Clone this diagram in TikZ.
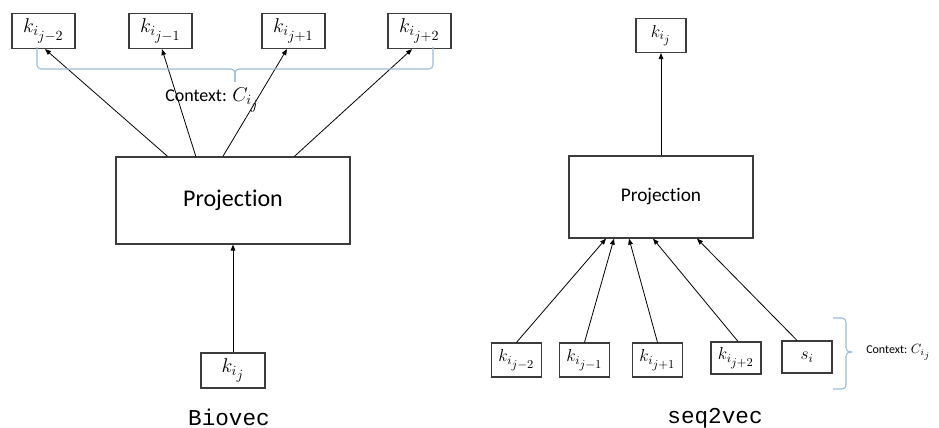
\RequirePackage{fix-cm}
\documentclass[tikz,border=0pt]{standalone}
\usepackage{fontspec}
\setmainfont[Ligatures={NoCommon}]{Carlito}
\newfontfamily\capfont{Liberation Mono}
\usepackage{tikz}
\usetikzlibrary{positioning,arrows.meta,calc}
\definecolor{boxgray}{RGB}{60,60,60}
\definecolor{braceblue}{RGB}{155,187,217}
\tikzset{
  kbox/.style={draw=boxgray,line width=0.9pt,minimum width=47.25pt,minimum height=26.25pt,inner sep=1pt,font=\fontsize{15}{17}\selectfont},
  sbox/.style={kbox,minimum width=37.5pt,minimum height=25.5pt,font=\fontsize{13}{15}\selectfont},
  projbox/.style={draw=boxgray,line width=0.9pt},
  link/.style={-{Triangle[length=4.5pt,width=3.5pt]},line width=0.6pt},
  ctxbrace/.style={braceblue,line width=0.8pt,rounded corners=3pt},
}

\begin{document}
\begin{tikzpicture}[x=0.75pt,y=-0.75pt]
\useasboundingbox (0,0) rectangle (939,428);
% Biovec
\begin{scope}
\node[kbox] (lt1) at (43.5,31) {$k_{i_{\scriptstyle j-2}}$};
\node[kbox] (lt2) at (160.5,31) {$k_{i_{\scriptstyle j-1}}$};
\node[kbox] (lt3) at (293.5,31) {$k_{i_{\scriptstyle j+1}}$};
\node[kbox] (lt4) at (419.5,31) {$k_{i_{\scriptstyle j+2}}$};
\node[projbox,minimum width=175.5pt,minimum height=65.25pt,font=\fontsize{18}{20}\selectfont] (lproj) at (233,200.5) {Projection};
\node[kbox,minimum width=48pt] (lk) at (233,370.5) {$k_{i_{\scriptstyle j}}$};
\draw[link] ($(lproj.north west)!0.222!(lproj.north east)$) -- ($(lt1.south)+(1.5,0)$);
\draw[link] ($(lproj.north west)!0.342!(lproj.north east)$) -- ($(lt2.south)+(1.5,0)$);
\draw[link] ($(lproj.north west)!0.457!(lproj.north east)$) -- ($(lt3.south)+(-6.5,0)$);
\draw[link] ($(lproj.north west)!0.761!(lproj.north east)$) -- ($(lt4.south)+(-7.5,0)$);
\draw[link] (lk.north) -- (lproj.south);
\draw[ctxbrace] (37,47) |- (235,69) -- (235,82);
\draw[ctxbrace] (433,47) |- (235,69) -- (235,82);
\node[font=\fontsize{13.5}{15}\selectfont,anchor=west,inner sep=0pt] (lctx) at (165,100) {Context: {\fontsize{15}{17}\selectfont$C_{i_{\scriptstyle j}}$}};
\node[font=\capfont\fontsize{17}{20}\selectfont] (lcap) at (229,417) {Biovec};
\end{scope}

% seq2vec
\begin{scope}
\node[sbox] (rk) at (661,35.5) {$k_{i_{\scriptstyle j}}$};
\node[projbox,minimum width=138pt,minimum height=61.5pt,font=\fontsize{14.5}{17}\selectfont] (rproj) at (661,197) {Projection};
\node[sbox] (rb1) at (516.5,360) {$k_{i_{\scriptstyle j-2}}$};
\node[sbox] (rb2) at (584.5,360) {$k_{i_{\scriptstyle j-1}}$};
\node[sbox] (rb3) at (657.5,360) {$k_{i_{\scriptstyle j+1}}$};
\node[sbox,minimum height=24pt] (rb4) at (736,358) {$k_{i_{\scriptstyle j+2}}$};
\node[sbox,minimum height=24pt] (rb5) at (807,357) {$s_i$};
\draw[link] (rproj.north) -- (rk.south);
\draw[link] (rb1.north) -- ($(rproj.south)+(-55,0)$);
\draw[link] (rb2.north) -- ($(rproj.south)+(-47,0)$);
\draw[link] (rb3.north) -- ($(rproj.south)+(-32,0)$);
\draw[link] ($(rb4.north)+(2,0)$) -- ($(rproj.south)+(-8,0)$);
\draw[link] ($(rb5.north)+(-10,0)$) -- ($(rproj.south)+(36,0)$);
\draw[ctxbrace] (833,318) -| (846,352) -- (852,352);
\draw[ctxbrace] (833,389) -| (846,352) -- (852,352);
\node[font=\fontsize{9}{11}\selectfont,anchor=west,inner sep=0pt] (rctx) at (866,352) {Context: {\fontsize{10}{12}\selectfont$C_{i_{\scriptstyle j}}$}};
\node[font=\capfont\fontsize{17}{20}\selectfont] (rcap) at (715,418) {seq2vec};
\end{scope}
\end{tikzpicture}
\end{document}
